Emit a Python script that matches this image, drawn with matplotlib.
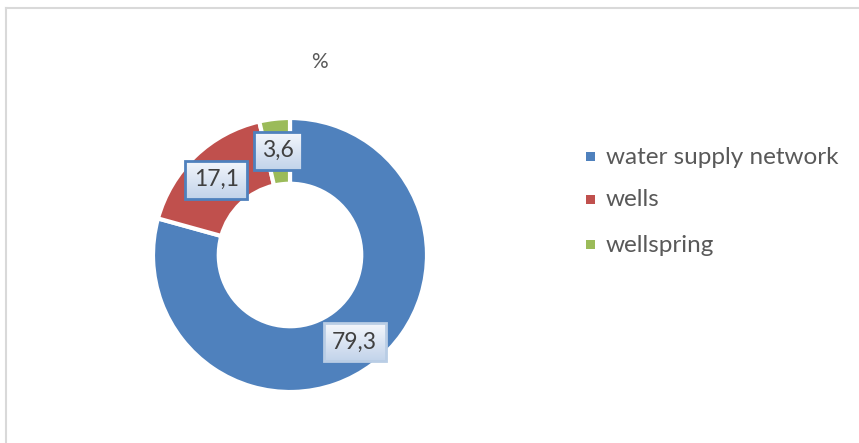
import matplotlib
matplotlib.use("Agg")
import matplotlib.pyplot as plt
import numpy as np
from matplotlib.lines import Line2D
from matplotlib.patches import Rectangle

categories = ["water supply network", "wells", "wellspring"]
values = [79.3, 17.1, 3.6]
labels = ["79,3", "17,1", "3,6"]
colors = ["#4f81bd", "#c0504d", "#9bbb59"]
title = "%"

plt.rcParams['font.family'] = ['Lato', 'DejaVu Sans']

W, H = 859, 443
fig = plt.figure(figsize=(W / 100, H / 100), dpi=100)

# chart border (top & left visible)
fig.add_artist(Line2D([6 / W, 6 / W], [0, 1 - 8 / H], color="#d9d9d9", lw=1.5))
fig.add_artist(Line2D([6 / W, 1], [1 - 8 / H, 1 - 8 / H], color="#d9d9d9", lw=1.5))

cx, cy, r = 290, 255, 137
ax = fig.add_axes([(cx - r) / W, (H - cy - r) / H, 2 * r / W, 2 * r / H])

width = 0.48
wedges, _ = ax.pie(values, colors=colors, startangle=90, counterclock=False,
                   radius=1, wedgeprops=dict(width=width, edgecolor="white", linewidth=3))
ax.set_xlim(-1, 1)
ax.set_ylim(-1, 1)
ax.set_aspect("equal")
ax.axis("off")

total = sum(values)
start = 90.0
texts = []
for i, (v, lab) in enumerate(zip(values, labels)):
    ang = start - v / total * 360 / 2
    start -= v / total * 360
    rr = 1 - width / 2 + 0.02
    x, y = rr * np.cos(np.radians(ang)), rr * np.sin(np.radians(ang))
    t = ax.text(x, y, lab, ha="center", va="center", fontsize=16.5, color="#404040", zorder=5)
    texts.append(t)

fig.canvas.draw()
renderer = fig.canvas.get_renderer()
grad = np.linspace(0, 1, 64).reshape(-1, 1)
top_c = np.array([0xf4, 0xf7, 0xfc]) / 255
bot_c = np.array([0xc2, 0xd3, 0xea]) / 255
img = (top_c[None, None, :] * (1 - grad[:, :, None]) + bot_c[None, None, :] * grad[:, :, None])
for i, t in enumerate(texts):
    bb = t.get_window_extent(renderer)
    xm = (bb.x0 + bb.x1) / 2
    ym = (bb.y0 + bb.y1) / 2 - 2
    bw = bb.width + 17
    bh = 38
    x0, y0 = xm - bw / 2, ym - bh / 2
    iax = fig.add_axes([x0 / W, y0 / H, bw / W, bh / H], zorder=3)
    iax.imshow(img, aspect="auto", extent=[0, 1, 0, 1], origin="upper")
    iax.set_xlim(0, 1)
    iax.set_ylim(0, 1)
    iax.set_axis_off()
    ec = "#b9cde5" if i == 0 else "#4f81bd"
    iax.add_patch(Rectangle((0, 0), 1, 1, transform=iax.transAxes, fill=False,
                            edgecolor=ec, linewidth=2, clip_on=False))
    iax.text(0.5, 0.5, t.get_text(), ha="center", va="center", fontsize=16.5,
             color="#404040", transform=iax.transAxes)
    t.remove()

fig.text(319 / W, 1 - 62 / H, title, ha="center", va="center", fontsize=15, color="#595959")

ys = [157, 200, 245]
for c, cat, y in zip(colors, categories, ys):
    fig.patches.append(Rectangle((586 / W, 1 - (y + 4) / H), 9 / W, 9 / H,
                                 transform=fig.transFigure, facecolor=c, edgecolor="none"))
    fig.text(606 / W, 1 - y / H, cat, ha="left", va="center", fontsize=17.5, color="#595959")

fig.savefig("out.png", dpi=100, facecolor="white")
